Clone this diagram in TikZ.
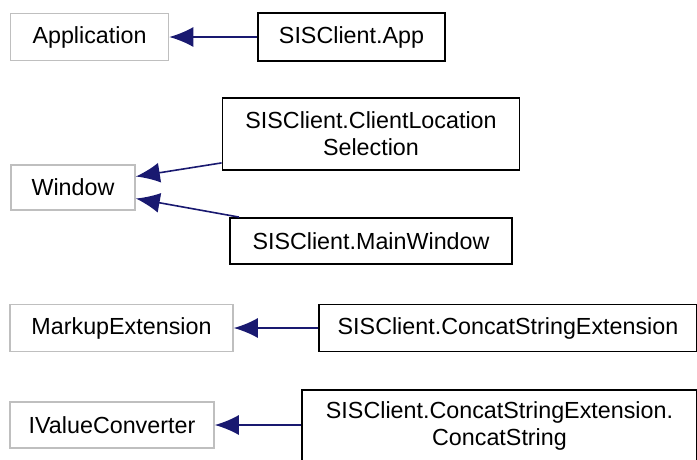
\documentclass[tikz,border=0pt]{standalone}
\usepackage{fontspec}
\setmainfont{Liberation Sans}
\usetikzlibrary{arrows.meta,calc}
\definecolor{edgeblue}{RGB}{25,25,112}
\definecolor{graybox}{RGB}{191,191,191}
\begin{document}
\begin{tikzpicture}[x=1pt,y=-1pt,
  base/.style={rectangle,inner sep=0pt,align=center,font=\fontsize{23.3}{27}\selectfont,fill=white},
  extbox/.style={base,draw=graybox,line width=1.6pt},
  clsbox/.style={base,draw=black,line width=1.8pt},
  inh/.style={draw=edgeblue,line width=1.6pt,-{Latex[length=24pt,width=20pt]}}]
\useasboundingbox (0,0) rectangle (697,459);
\clip (0,0) rectangle (697,459);
\node[extbox,minimum width=158pt,minimum height=47pt] (app) at (89.5,37) {Application};
\node[clsbox,minimum width=187pt,minimum height=48pt] (sapp) at (351.5,37) {SISClient.App};
\node[extbox,minimum width=124pt,minimum height=45pt] (win) at (73,187.5) {Window};
\node[clsbox,minimum width=297pt,minimum height=72pt] (cls) at (371,134) {SISClient.ClientLocation\\Selection};
\node[clsbox,minimum width=282pt,minimum height=46pt] (mw) at (371,241) {SISClient.MainWindow};
\node[extbox,minimum width=223pt,minimum height=47pt] (mext) at (121.5,328) {MarkupExtension};
\node[clsbox,minimum width=378pt,minimum height=47pt] (cse) at (508,328) {SISClient.ConcatStringExtension};
\node[extbox,minimum width=204pt,minimum height=46pt] (ivc) at (112,425) {IValueConverter};
\node[clsbox,minimum width=395pt,minimum height=72pt] (cs) at (499.5,426) {SISClient.ConcatStringExtension.\\ConcatString};
\coordinate (w1) at ($(win.east)+(0,-11)$);
\coordinate (w2) at ($(win.east)+(0,11)$);
\coordinate (c1) at ($(cls.south west)+(0,-8)$);
\coordinate (m1) at ($(mw.north west)+(10,0)$);
\draw[inh] (sapp.west) -- (app.east);
\draw[inh] (c1) -- (w1);
\draw[inh] (m1) -- (w2);
\draw[inh] (cse.west) -- (mext.east);
\draw[inh] (cs.west |- ivc.east) -- (ivc.east);
\end{tikzpicture}
\end{document}
